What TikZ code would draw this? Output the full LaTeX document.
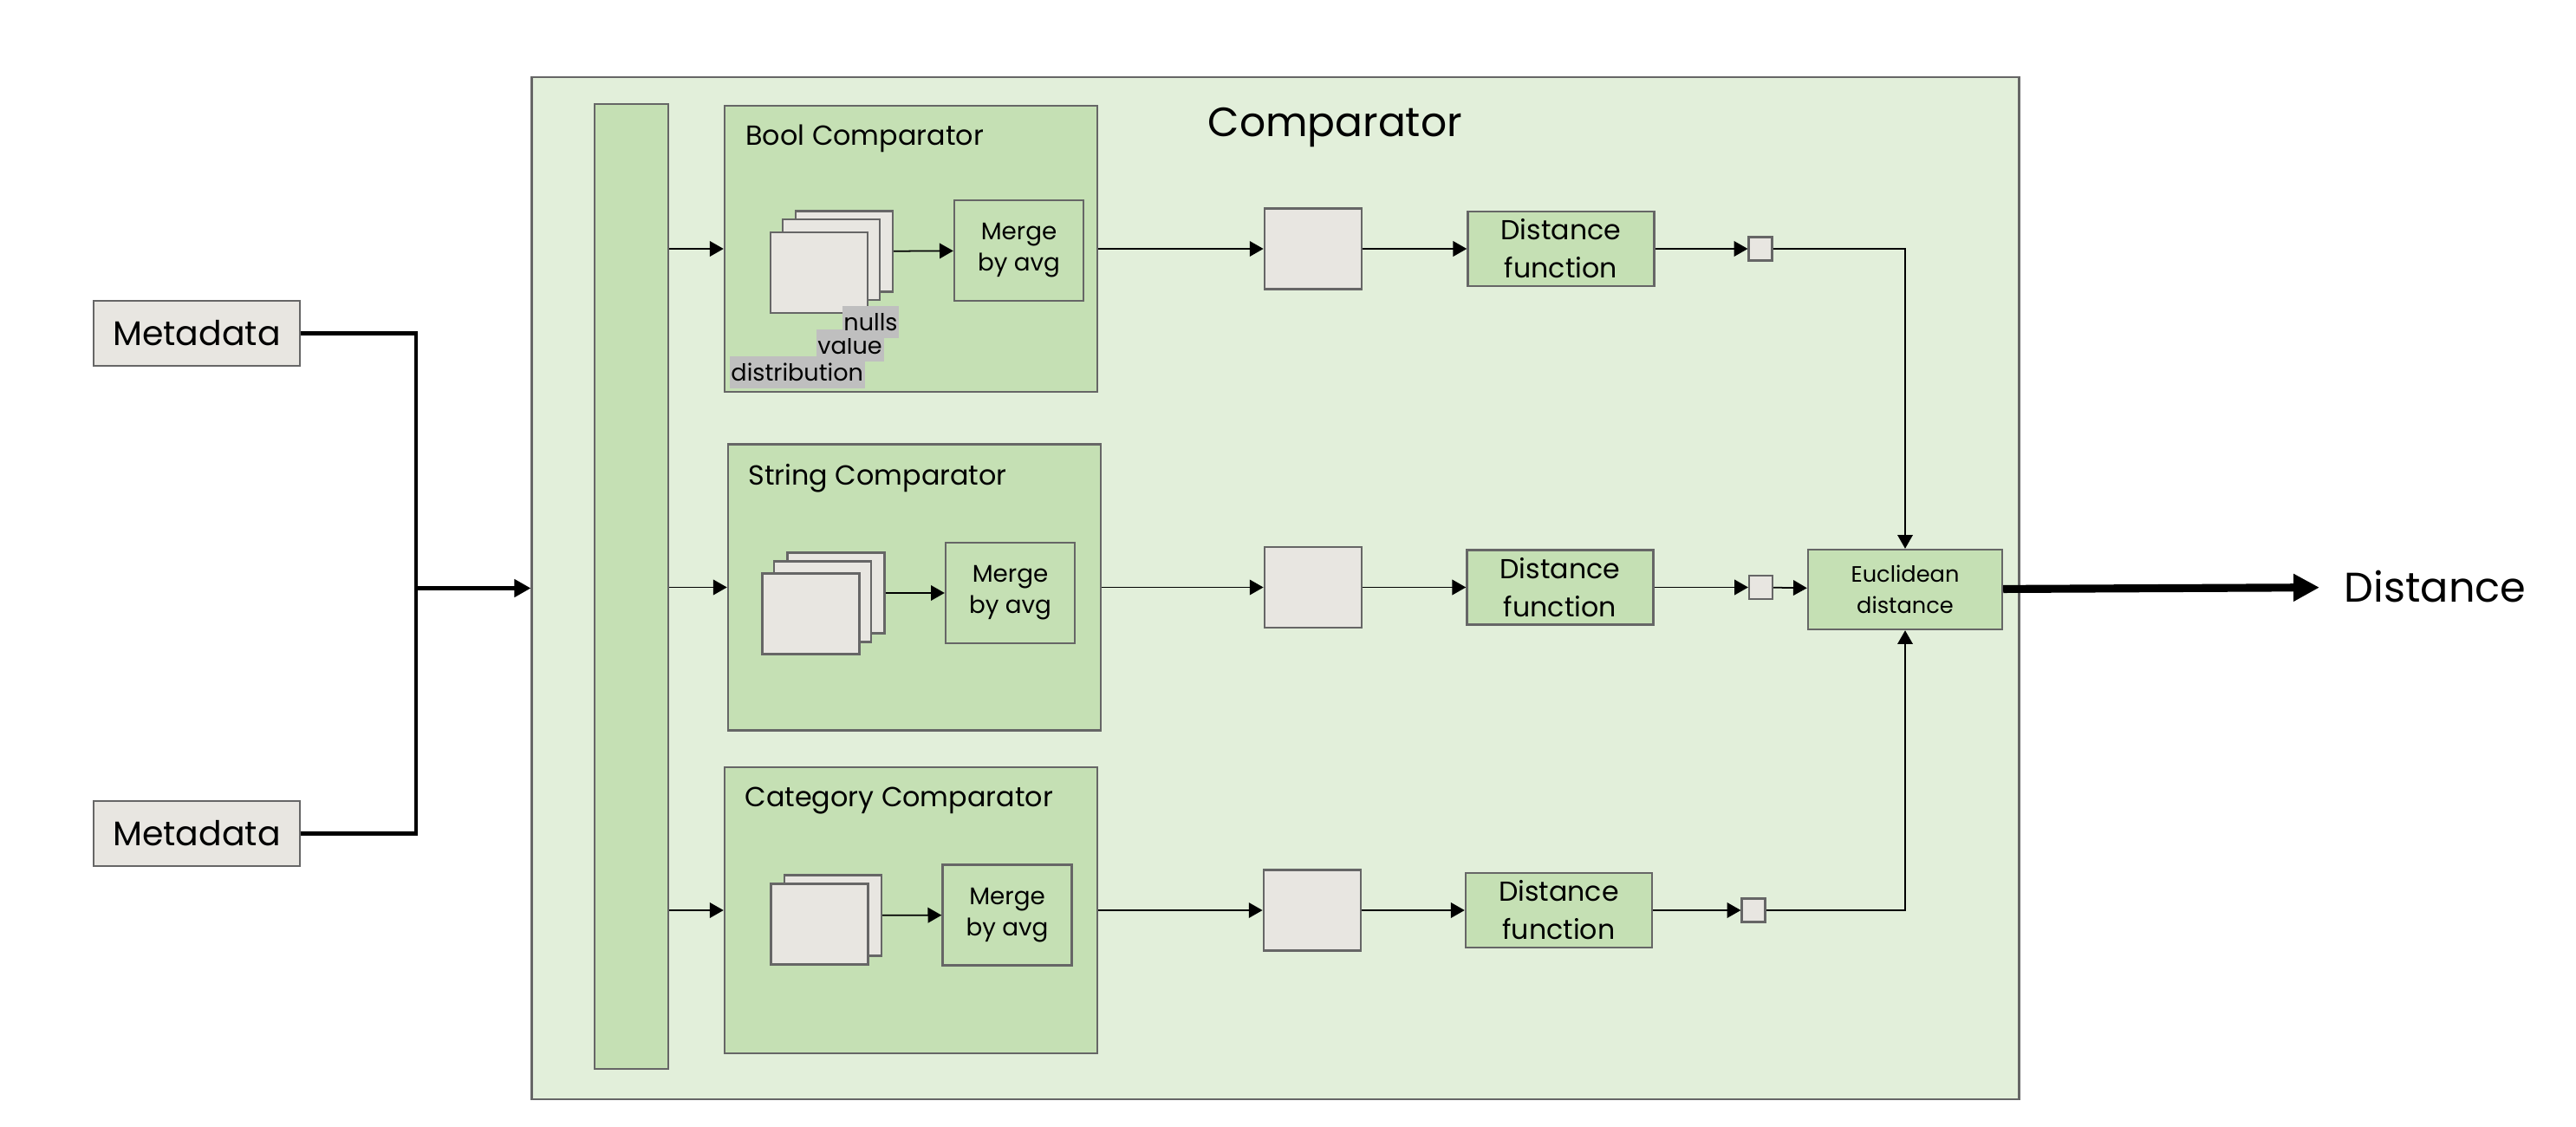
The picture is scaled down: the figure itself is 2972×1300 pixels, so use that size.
\documentclass[tikz,border=0pt]{standalone}
\usepackage{fontspec}
\setmainfont{Poppins}
\usepackage{tikz}
\usetikzlibrary{arrows.meta}
\definecolor{outerbg}{HTML}{E2EFDA}
\definecolor{boxgreen}{HTML}{C5E0B4}
\definecolor{boxgray}{HTML}{E8E6E1}
\definecolor{edgegray}{HTML}{666666}
\definecolor{tagbg}{HTML}{BFBFBF}
\tikzstyle{boxline} = [rectangle, draw=edgegray, line width=0.65pt, inner sep=0pt]
\tikzstyle{meta} = [boxline, fill=boxgray, minimum width=2.38cm, minimum height=0.75cm, font=\fontsize{11.2}{13}\selectfont]
\tikzstyle{cmp} = [boxline, fill=boxgreen, minimum width=4.3cm, minimum height=3.3cm]
\tikzstyle{cmptitle} = [anchor=base west, inner sep=0pt, font=\fontsize{9.05}{11}\selectfont]
\tikzstyle{card} = [boxline, fill=boxgray, minimum width=1.12cm, minimum height=0.93cm]
\tikzstyle{merge} = [boxline, fill=boxgreen, minimum width=1.49cm, minimum height=1.16cm, align=center, font=\fontsize{7.9}{10.2}\selectfont]
\tikzstyle{dfunc} = [boxline, fill=boxgreen, minimum width=2.15cm, minimum height=0.86cm, align=center, font=\fontsize{9}{12.5}\selectfont]
\tikzstyle{euclid} = [boxline, fill=boxgreen, minimum width=2.24cm, minimum height=0.92cm, align=center, font=\fontsize{7.3}{10.2}\selectfont]
\tikzstyle{tinybox} = [boxline, fill=boxgray, minimum size=0.27cm]
\tikzstyle{tag} = [fill=tagbg, inner xsep=0.5pt, inner ysep=0pt, minimum height=0.37cm, anchor=north west, font=\fontsize{7.7}{9}\selectfont]
\tikzstyle{arrow} = [line width=0.5pt, -{Triangle[length=4.5pt,width=5pt]}]
\tikzstyle{thickline} = [line width=1.25pt]
\tikzstyle{thickarrow} = [thickline, -{Triangle[length=5.4pt,width=5.7pt]}]
\tikzstyle{bigarrow} = [line width=2.6pt, -{Triangle[length=8.5pt,width=8.5pt]}]

\begin{document}
\begin{tikzpicture}[x=0.01cm, y=-0.01cm, node distance=2cm]
\useasboundingbox (0,0) rectangle (2972,1300);

% comparator block
\node (outer) [boxline, fill=outerbg, minimum width=17.15cm, minimum height=11.79cm] at (1471.5,678.5) {};
\node (title) [anchor=base west, inner sep=0pt, font=\fontsize{13.4}{16}\selectfont] at (1393,158) {Comparator};
\node (bar) [boxline, fill=boxgreen, minimum width=0.85cm, minimum height=11.13cm] at (728.5,676.5) {};

\node (meta1) [meta] at (227,384.5) {Metadata};
\node (meta2) [meta] at (227,961.5) {Metadata};
\coordinate (junc) at (480,678.5);

% bool
\node (boolcmp) [cmp] at (1051,287) {};
\node (boolname) [cmptitle] at ([xshift=0.25cm, yshift=-0.47cm]boolcmp.north west) {Bool Comparator};
\node (bool3) [card] at (974,290) {};
\node (bool2) [card] at (959,299.5) {};
\node (bool1) [card] at (945,314.5) {};
\node (boolmerge) [merge] at (1175.5,289) {Merge\\by avg};
\node (tagdist) [tag] at (841,410) {distribution};
\node (tagval) [tag] at (941,379) {value};
\node (tagnull) [tag] at (971,352) {nulls};

% string
\node (strcmp) [cmp] at (1055,677.5) {};
\node (strname) [cmptitle] at ([xshift=0.24cm, yshift=-0.48cm]strcmp.north west) {String Comparator};
\node (str3) [card] at (964.5,684) {};
\node (str2) [card] at (949,694) {};
\node (str1) [card] at (935.5,708) {};
\node (strmerge) [merge] at (1165.5,684) {Merge\\by avg};

% category
\node (catcmp) [cmp] at (1051,1050) {};
\node (catname) [cmptitle] at ([xshift=0.24cm, yshift=-0.47cm]catcmp.north west) {Category Comparator};
\node (cat2) [card] at (961,1056) {};
\node (cat1) [card] at (945.5,1066) {};
\node (catmerge) [merge] at (1162,1055.5) {Merge\\by avg};

% rows
\node (r1) [card, right of=boolcmp, xshift=2.635cm] {};
\node (d1) [dfunc, right of=r1, xshift=0.86cm] {Distance\\function};
\node (t1) [tinybox, right of=d1, xshift=0.30cm] {};
\node (r2) [card, right of=strcmp, xshift=2.595cm] {};
\node (d2) [dfunc, right of=r2, xshift=0.85cm] {Distance\\function};
\node (t2) [tinybox, right of=d2, xshift=0.315cm] {};
\node (r3) [card, right of=catcmp, xshift=2.625cm] {};
\node (d3) [dfunc, right of=r3, xshift=0.845cm] {Distance\\function};
\node (t3) [tinybox, right of=d3, xshift=0.245cm] {};

\node (eu) [euclid] at (2198,680) {Euclidean\\distance};
\node (dist) [anchor=west, inner sep=0pt, font=\fontsize{13.6}{16}\selectfont] at (2704,677) {Distance};

\draw [thickline] (meta1.east) -| (junc) |- (meta2.east);
\draw [thickarrow] (junc) -- (outer.west);

\draw [arrow] (bar.east |- boolcmp.west) -- (boolcmp.west);
\draw [arrow] (bar.east |- strcmp.west) -- (strcmp.west);
\draw [arrow] (bar.east |- catcmp.west) -- (catcmp.west);

\draw [arrow] (bool3) -- (boolmerge);
\draw [arrow] (str3) -- (strmerge);
\draw [arrow] (cat2) -- (catmerge);

\draw [arrow] (boolcmp) -- (r1);
\draw [arrow] (r1) -- (d1);
\draw [arrow] (d1) -- (t1);
\draw [arrow] (strcmp) -- (r2);
\draw [arrow] (r2) -- (d2);
\draw [arrow] (d2) -- (t2);
\draw [arrow] (catcmp) -- (r3);
\draw [arrow] (r3) -- (d3);
\draw [arrow] (d3) -- (t3);

\draw [arrow] (t1.east) -| (eu.north);
\draw [arrow] (t2) -- (eu);
\draw [arrow] (t3.east) -| (eu.south);

\draw [bigarrow, shorten >=0.28cm] (eu) -- (dist);

\end{tikzpicture}
\end{document}
